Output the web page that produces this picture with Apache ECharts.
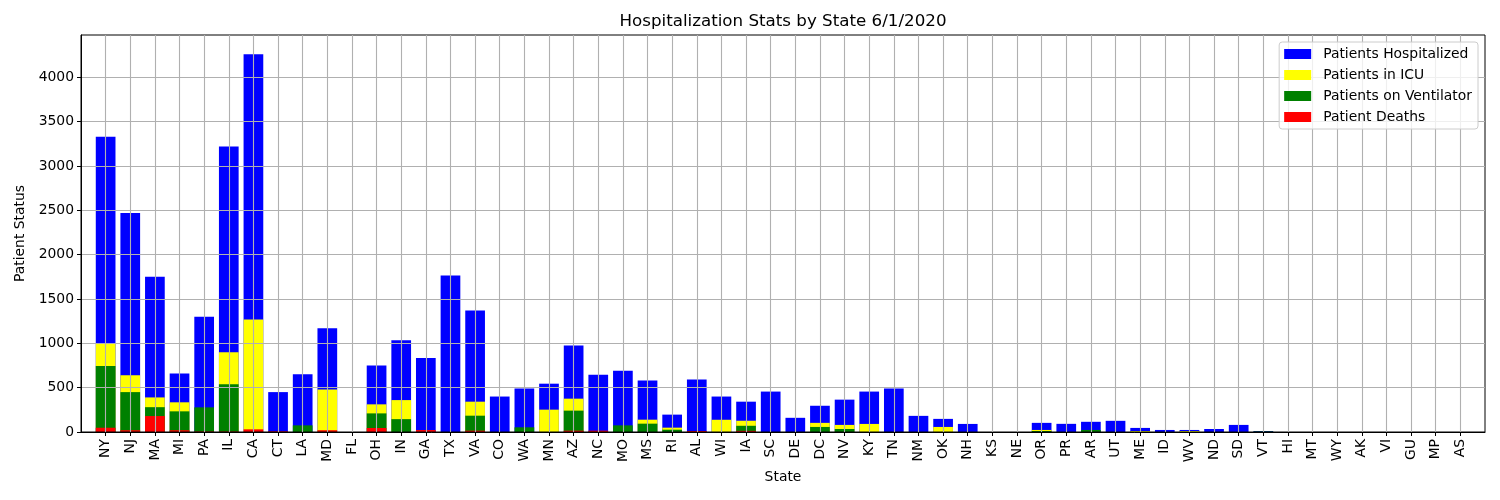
<!DOCTYPE html>
<html>
<head>
<meta charset="utf-8">
<script src="https://cdn.jsdelivr.net/npm/echarts@6/dist/echarts.min.js"></script>
<style>html,body{margin:0;padding:0;background:#fff}#c{width:1500px;height:500px}</style>
</head>
<body>
<div id="c"></div>
<script>
const states = ['NY','NJ','MA','MI','PA','IL','CA','CT','LA','MD','FL','OH','IN','GA','TX','VA','CO','WA','MN','AZ','NC','MO','MS','RI','AL','WI','IA','SC','DE','DC','NV','KY','TN','NM','OK','NH','KS','NE','OR','PR','AR','UT','ME','ID','WV','ND','SD','VT','HI','MT','WY','AK','VI','GU','MP','AS'];
const hospitalized = [3330,2470,1750,660,1300,3220,4260,450,650,1170,0,750,1035,835,1765,1370,400,490,545,975,647,692,580,196,592,400,342,456,160,296,365,456,490,182,148,91,0,0,103,92,115,126,46,23,23,34,80,11,0,0,0,0,0,0,0,0];
const icu = [995,640,390,335,0,900,1270,0,0,480,0,312,360,0,0,342,0,0,252,376,0,0,139,49,0,138,127,0,0,103,80,91,0,0,57,0,0,0,23,0,0,0,11,0,11,0,0,0,0,0,0,0,0,0,0,0];
const ventilator = [745,450,280,233,278,540,0,0,75,0,0,210,145,0,0,184,0,53,0,241,0,75,94,26,0,0,70,0,0,57,34,0,0,0,0,0,0,0,11,0,23,0,0,0,0,0,0,6,0,0,0,0,0,0,0,0];
const deaths = [48,20,180,20,5,5,30,8,0,20,0,45,0,22,0,15,0,0,0,15,15,0,0,0,11,0,13,0,0,0,0,0,0,0,0,0,0,0,0,0,0,0,0,0,0,0,0,0,0,0,0,0,0,0,0,0];
const yTicks = [0,500,1000,1500,2000,2500,3000,3500,4000];

const cats = [''].concat(states, ['']);
const pad = arr => [null].concat(arr, [null]);
const font = 'DejaVu Sans';
const inner = (i) => i > 0 && i < cats.length - 1;

const chart = echarts.init(document.getElementById('c'), null, {renderer: 'canvas'});
const mk = (name, data, color) => ({
  name, type: 'bar', data: pad(data), barWidth: 19.7, barGap: '-100%',
  itemStyle: {color}, z: 2, animation: false
});
chart.setOption({
  animation: false,
  textStyle: {fontFamily: font, color: '#000'},
  title: {
    text: 'Hospitalization Stats by State 6/1/2020',
    left: 783, top: 13, textAlign: 'center', padding: 0,
    textStyle: {fontFamily: font, fontSize: 16.7, fontWeight: 'normal', color: '#000'}
  },
  grid: {left: 81, right: 15, top: 35, bottom: 68, show: true, borderColor: '#000', borderWidth: 1, backgroundColor: 'transparent', z: 10},
  legend: {
    orient: 'vertical', right: 22, top: 42, z: 20,
    data: ['Patients Hospitalized','Patients in ICU','Patients on Ventilator','Patient Deaths'],
    icon: 'rect', itemWidth: 27, itemHeight: 10, itemGap: 7,
    padding: [5, 6, 5, 5],
    backgroundColor: 'rgba(255,255,255,0.8)', borderColor: '#cccccc', borderWidth: 1, borderRadius: 3,
    textStyle: {fontFamily: font, fontSize: 13.9, color: '#000', lineHeight: 14, padding: [0, 0, 0, 7]}
  },
  xAxis: {
    type: 'category', data: cats, boundaryGap: false, z: 10,
    name: 'State', nameLocation: 'middle', nameGap: 38,
    nameTextStyle: {fontFamily: font, fontSize: 13.9, color: '#000'},
    axisLine: {show: true, lineStyle: {color: '#000', width: 1}},
    axisTick: {show: true, inside: false, length: 4, interval: inner, lineStyle: {color: '#000'}},
    axisLabel: {interval: inner, rotate: 90, margin: 7, fontFamily: font, fontSize: 13.9, color: '#000'},
    splitLine: {show: true, interval: inner, lineStyle: {color: '#b0b0b0', width: 1.1}}
  },
  yAxis: {
    type: 'value', min: 0, max: 4478, interval: 500, z: 10,
    name: 'Patient Status', nameLocation: 'middle', nameGap: 52,
    nameTextStyle: {fontFamily: font, fontSize: 13.9, color: '#000'},
    axisLine: {show: true, lineStyle: {color: '#000', width: 1}},
    axisTick: {show: true, length: 4, customValues: yTicks, lineStyle: {color: '#000'}},
    axisLabel: {margin: 7, fontFamily: font, fontSize: 13.9, color: '#000', customValues: yTicks,
      formatter: v => yTicks.includes(v) ? String(v) : ''},
    splitLine: {show: true, lineStyle: {color: '#b0b0b0', width: 1.1}}
  },
  series: [
    mk('Patients Hospitalized', hospitalized, '#0000ff'),
    mk('Patients in ICU', icu, '#ffff00'),
    mk('Patients on Ventilator', ventilator, '#008000'),
    mk('Patient Deaths', deaths, '#ff0000')
  ]
});
</script>
</body>
</html>
